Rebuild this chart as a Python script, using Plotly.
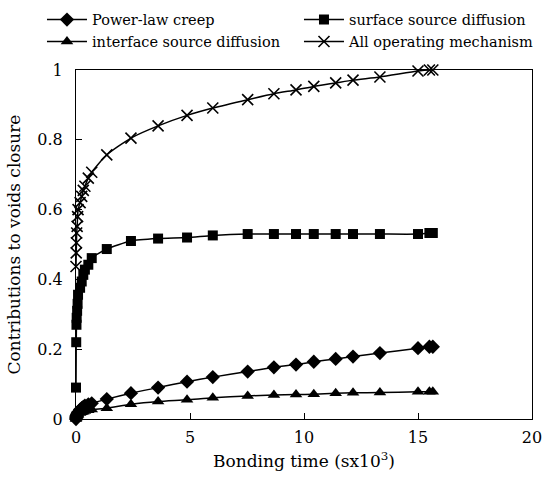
import plotly.graph_objects as go

time_k = [0, 0.01, 0.02, 0.03, 0.05, 0.07, 0.09, 0.18, 0.25, 0.32, 0.39, 0.54, 0.69, 1.35,
          2.41, 3.6, 4.87, 6.0, 7.53, 8.68, 9.65, 10.43, 11.39, 12.15, 13.33, 15.0, 15.5, 15.65]

power_law = [0.0, 0.005, 0.008, 0.01, 0.013, 0.016, 0.019, 0.027, 0.031, 0.035, 0.038, 0.042, 0.045, 0.057,
             0.074, 0.09, 0.107, 0.12, 0.136, 0.148, 0.156, 0.164, 0.172, 0.179, 0.189, 0.203, 0.207, 0.207]
surface = [0.09, 0.22, 0.27, 0.29, 0.31, 0.33, 0.356, 0.376, 0.394, 0.413, 0.428, 0.442, 0.461, 0.487,
           0.51, 0.517, 0.52, 0.526, 0.53, 0.53, 0.53, 0.53, 0.53, 0.53, 0.53, 0.53, 0.533, 0.533]
interface = [0.0, 0.003, 0.005, 0.007, 0.009, 0.011, 0.013, 0.017, 0.019, 0.021, 0.023, 0.025, 0.027, 0.031,
             0.042, 0.05, 0.055, 0.061, 0.066, 0.069, 0.070, 0.071, 0.074, 0.075, 0.076, 0.078, 0.078, 0.078]
all_mech = [0.437, 0.476, 0.505, 0.533, 0.552, 0.58, 0.60, 0.62, 0.638, 0.655, 0.667, 0.69, 0.707, 0.757,
            0.805, 0.84, 0.87, 0.891, 0.915, 0.932, 0.943, 0.953, 0.963, 0.971, 0.98, 0.997, 1.0, 1.0]

names = ["Power-law creep", "surface source diffusion", "interface source diffusion", "All operating mechanism"]
series = [power_law, surface, interface, all_mech]
symbols = ["diamond", "square", "triangle-up", "x-thin"]
sizes = [11, 10, 11, 11]
legend_ids = ["legend", "legend2", "legend", "legend2"]

FONT = "DejaVu Serif"
fig = go.Figure()
for nm, ys, sym, sz, lg in zip(names, series, symbols, sizes, legend_ids):
    fig.add_trace(go.Scatter(
        x=time_k, y=ys, name=nm, mode="lines+markers", legend=lg,
        line=dict(color="black", width=1.5, shape="spline", smoothing=0.6),
        marker=dict(symbol=sym, size=sz, color="black",
                    line=dict(color="black", width=1.6 if sym == "x-thin" else 0)),
        cliponaxis=False,
    ))

leg_common = dict(orientation="v", yanchor="top", xanchor="left", tracegroupgap=0, itemwidth=40,
                  bgcolor="rgba(0,0,0,0)", font=dict(family=FONT, size=14.5, color="black"))
fig.update_layout(
    width=542, height=477,
    margin=dict(l=76, r=10, t=70, b=58, autoexpand=False),
    paper_bgcolor="white", plot_bgcolor="white",
    font=dict(family=FONT, size=16, color="black"),
    showlegend=True,
    legend=dict(x=-0.0746, y=1.19, **leg_common),
    legend2=dict(x=0.489, y=1.19, **leg_common),
)
fig.update_xaxes(range=[0, 20], tickvals=[0, 5, 10, 15, 20], ticks="inside", ticklen=6,
                 tickcolor="black", showline=True, linecolor="black", linewidth=1.2, mirror=True,
                 showgrid=False, zeroline=False, ticklabelstandoff=4, ticklabeloverflow="allow",
                 title=dict(text="Bonding time (sx10<sup>3</sup>)", font=dict(family=FONT, size=17), standoff=8),
                 tickfont=dict(family=FONT, size=16))
fig.update_yaxes(range=[0, 1], tickvals=[0, 0.2, 0.4, 0.6, 0.8, 1], ticktext=["0", "0.2", "0.4", "0.6", "0.8", "1"],
                 ticks="inside", ticklen=6, tickcolor="black", showline=True, linecolor="black", linewidth=1.2,
                 mirror=True, showgrid=False, zeroline=False, ticklabelstandoff=9,
                 title=dict(text="Contributions to voids closure", font=dict(family=FONT, size=17), standoff=12),
                 tickfont=dict(family=FONT, size=16))

fig.write_html("out.html")
